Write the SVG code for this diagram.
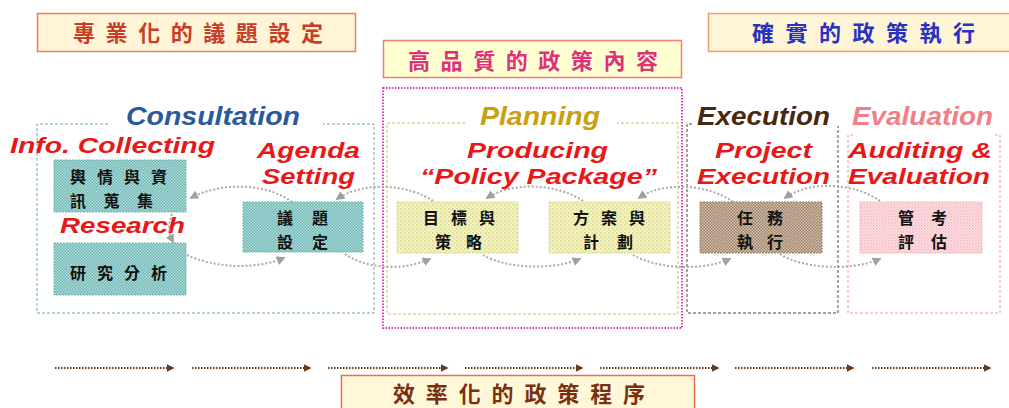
<svg xmlns="http://www.w3.org/2000/svg" width="1009" height="408" viewBox="0 0 1009 408">
<style>
.cjk{font-family:"Noto Sans CJK TC","Noto Sans CJK SC",sans-serif;font-weight:700}
.band{font-size:22px}
.nt{font-size:16px;fill:#111}
.en{font-family:"Liberation Sans",Arial,sans-serif;font-weight:700;font-style:italic;font-size:25px}
.red{fill:#e81818;font-size:22px}
.conn{fill:none;stroke:#a9a9a9;stroke-width:2;stroke-dasharray:2 2}
.flow{fill:none;stroke:#6b3a1a;stroke-width:2;stroke-dasharray:1.5 1.5}
</style>
<defs>
<marker id="ag" viewBox="0 0 10 10" refX="8" refY="5" markerWidth="9" markerHeight="9" markerUnits="userSpaceOnUse" orient="auto"><path d="M0,0 L10,5 L0,10 Z" fill="#a0a0a0"/></marker>
<marker id="ab" viewBox="0 0 10 10" refX="8" refY="5" markerWidth="8" markerHeight="8" markerUnits="userSpaceOnUse" orient="auto"><path d="M0,0 L10,5 L0,10 Z" fill="#6b3a1a"/></marker>
<pattern id="pTeal" width="3" height="3" patternUnits="userSpaceOnUse"><rect width="3" height="3" fill="#addcda"/><rect width="1.5" height="1.5" fill="#72b6b4"/><rect x="1.5" y="1.5" width="1.5" height="1.5" fill="#72b6b4"/></pattern>
<pattern id="pYel" width="4" height="4" patternUnits="userSpaceOnUse"><rect width="4" height="4" fill="#f4f2bd"/><rect width="1.5" height="1.5" fill="#d9d69a"/><rect x="2" y="2" width="1.5" height="1.5" fill="#e2df9f"/></pattern>
<pattern id="pBrn" width="3" height="3" patternUnits="userSpaceOnUse"><rect width="3" height="3" fill="#d6c4ae"/><rect width="1.5" height="1.5" fill="#9a7e66"/><rect x="1.5" y="1.5" width="1.5" height="1.5" fill="#9a7e66"/></pattern>
<pattern id="pPnk" width="3" height="3" patternUnits="userSpaceOnUse"><rect width="3" height="3" fill="#fde2e6"/><rect width="1.5" height="1.5" fill="#f4b6be"/><rect x="1.5" y="1.5" width="1.5" height="1.5" fill="#f8c8ce"/></pattern>
</defs>
<rect width="1009" height="408" fill="#ffffff"/>

<g id="band-top-left">
<rect x="37.5" y="13.5" width="318" height="38" fill="#fff4d6" stroke="#ef7c5c" stroke-width="1.5"/>
<text class="cjk band" x="73" y="41" fill="#c83c28" textLength="250" lengthAdjust="spacing">專業化的議題設定</text>
</g>
<g id="band-mid">
<rect x="383.5" y="40.5" width="298" height="37" fill="#ffffd2" stroke="#ef8070" stroke-width="1.5"/>
<text class="cjk band" x="408" y="69" fill="#e0307a" textLength="250" lengthAdjust="spacing">高品質的政策內容</text>
</g>
<g id="band-top-right">
<rect x="708.5" y="13.5" width="310" height="38" fill="#fdf5d6" stroke="#f0a070" stroke-width="1.5"/>
<text class="cjk band" x="752" y="41" fill="#2a30c0" textLength="223" lengthAdjust="spacing">確實的政策執行</text>
</g>
<g id="band-bottom">
<rect x="341.5" y="375.5" width="353" height="40" fill="#fff8d8" stroke="#e87050" stroke-width="1.5"/>
<text class="cjk band" x="393" y="402" fill="#7a3010" textLength="252" lengthAdjust="spacing">效率化的政策程序</text>
</g>

<g id="containers">
<path d="M108,124 L37,124 L37,313 L374,313 L374,124 L323,124" fill="none" stroke="#6aa8a8" stroke-width="1" stroke-dasharray="3 2"/>
<rect x="383" y="88" width="299" height="240" fill="none" stroke="#e040c0" stroke-width="2" stroke-dasharray="1.5 1.5"/>
<path d="M465,123 L387,123 L387,314 L678,314 L678,123 L617,123" fill="none" stroke="#d8b860" stroke-width="1" stroke-dasharray="3 2"/>
<path d="M692,124 L687,124 L687,313 L838,313 L838,126" fill="none" stroke="#5a4030" stroke-width="1" stroke-dasharray="3 2"/>
<path d="M853,135 L848,135 L848,313 L1000,313 L1000,135 L995,135" fill="none" stroke="#f09aa8" stroke-width="1" stroke-dasharray="3 2"/>
</g>

<g id="titles">
<text class="en" x="126" y="125" fill="#2a5a9a" textLength="174" lengthAdjust="spacingAndGlyphs">Consultation</text>
<text class="en" x="480" y="125" fill="#c8a010" textLength="120" lengthAdjust="spacingAndGlyphs">Planning</text>
<text class="en" x="697" y="125" fill="#4a2810" textLength="133" lengthAdjust="spacingAndGlyphs">Execution</text>
<text class="en" x="852" y="125" fill="#f08088" textLength="141" lengthAdjust="spacingAndGlyphs">Evaluation</text>
</g>

<g id="labels">
<text class="en red" x="10" y="153" textLength="205" lengthAdjust="spacingAndGlyphs">Info. Collecting</text>
<text class="en red" x="257" y="158" textLength="103" lengthAdjust="spacingAndGlyphs">Agenda</text>
<text class="en red" x="262" y="184" textLength="93" lengthAdjust="spacingAndGlyphs">Setting</text>
<text class="en red" x="60" y="233" textLength="125" lengthAdjust="spacingAndGlyphs">Research</text>
<text class="en red" x="467" y="158" textLength="141" lengthAdjust="spacingAndGlyphs">Producing</text>
<text class="en red" x="420" y="184" textLength="237" lengthAdjust="spacingAndGlyphs">“Policy Package”</text>
<text class="en red" x="715" y="158" textLength="97" lengthAdjust="spacingAndGlyphs">Project</text>
<text class="en red" x="697" y="184" textLength="133" lengthAdjust="spacingAndGlyphs">Execution</text>
<text class="en red" x="848" y="158" textLength="144" lengthAdjust="spacingAndGlyphs">Auditing &amp;</text>
<text class="en red" x="848" y="184" textLength="142" lengthAdjust="spacingAndGlyphs">Evaluation</text>
</g>

<g id="connectors">
<path class="conn" d="M292,202 C270,185 225,180 191,198" marker-end="url(#ag)"/>
<path class="conn" d="M433,201 C410,185 365,180 337,199" marker-end="url(#ag)"/>
<path class="conn" d="M583,201 C560,185 515,180 487,198" marker-end="url(#ag)"/>
<path class="conn" d="M733,202 C710,185 665,180 639,198" marker-end="url(#ag)"/>
<path class="conn" d="M880,201 C855,183 810,180 785,198" marker-end="url(#ag)"/>
<path class="conn" d="M187,255 C215,268 255,270 284,258" marker-end="url(#ag)"/>
<path class="conn" d="M345,254 C365,268 400,272 430,259" marker-end="url(#ag)"/>
<path class="conn" d="M483,255 C505,268 550,271 580,259" marker-end="url(#ag)"/>
<path class="conn" d="M633,255 C655,268 700,272 730,259" marker-end="url(#ag)"/>
<path class="conn" d="M780,254 C800,268 850,272 880,259" marker-end="url(#ag)"/>
<path class="conn" d="M172,214 C168,224 168,232 173,242" marker-end="url(#ag)"/>
<path class="flow" d="M55,368 H173" marker-end="url(#ab)"/>
<path class="flow" d="M192,368 H310" marker-end="url(#ab)"/>
<path class="flow" d="M328,368 H447" marker-end="url(#ab)"/>
<path class="flow" d="M465,368 H582" marker-end="url(#ab)"/>
<path class="flow" d="M600,368 H718" marker-end="url(#ab)"/>
<path class="flow" d="M735,368 H853" marker-end="url(#ab)"/>
<path class="flow" d="M872,368 H990" marker-end="url(#ab)"/>
</g>

<g id="node-info">
<rect x="54" y="160" width="132" height="52" fill="url(#pTeal)" stroke="#72b6b4" stroke-width="1" stroke-dasharray="2 1"/>
<text class="cjk nt" x="70" y="183" textLength="97" lengthAdjust="spacing">輿情與資</text>
<text class="cjk nt" x="70" y="207" textLength="83" lengthAdjust="spacing">訊蒐集</text>
</g>
<g id="node-research">
<rect x="54" y="243" width="132" height="52" fill="url(#pTeal)" stroke="#72b6b4" stroke-width="1" stroke-dasharray="2 1"/>
<text class="cjk nt" x="70" y="279" textLength="97" lengthAdjust="spacing">研究分析</text>
</g>
<g id="node-agenda">
<rect x="243" y="202" width="120" height="50" fill="url(#pTeal)" stroke="#72b6b4" stroke-width="1" stroke-dasharray="2 1"/>
<text class="cjk nt" x="277" y="224" textLength="51" lengthAdjust="spacing">議題</text>
<text class="cjk nt" x="277" y="248" textLength="51" lengthAdjust="spacing">設定</text>
</g>
<g id="node-goal">
<rect x="397" y="202" width="121" height="51" fill="url(#pYel)" stroke="#d9d69a" stroke-width="1" stroke-dasharray="2 1"/>
<text class="cjk nt" x="423" y="224" textLength="72" lengthAdjust="spacing">目標與</text>
<text class="cjk nt" x="435" y="248" textLength="47" lengthAdjust="spacing">策略</text>
</g>
<g id="node-plan">
<rect x="549" y="202" width="121" height="51" fill="url(#pYel)" stroke="#d9d69a" stroke-width="1" stroke-dasharray="2 1"/>
<text class="cjk nt" x="573" y="224" textLength="72" lengthAdjust="spacing">方案與</text>
<text class="cjk nt" x="583" y="248" textLength="50" lengthAdjust="spacing">計劃</text>
</g>
<g id="node-exec">
<rect x="700" y="202" width="122" height="51" fill="url(#pBrn)" stroke="#9a7e66" stroke-width="1" stroke-dasharray="2 1"/>
<text class="cjk nt" x="737" y="224" textLength="46" lengthAdjust="spacing">任務</text>
<text class="cjk nt" x="737" y="248" textLength="46" lengthAdjust="spacing">執行</text>
</g>
<g id="node-eval">
<rect x="860" y="202" width="122" height="51" fill="url(#pPnk)" stroke="#f4b6be" stroke-width="1" stroke-dasharray="2 1"/>
<text class="cjk nt" x="898" y="224" textLength="49" lengthAdjust="spacing">管考</text>
<text class="cjk nt" x="898" y="248" textLength="49" lengthAdjust="spacing">評估</text>
</g>
</svg>
